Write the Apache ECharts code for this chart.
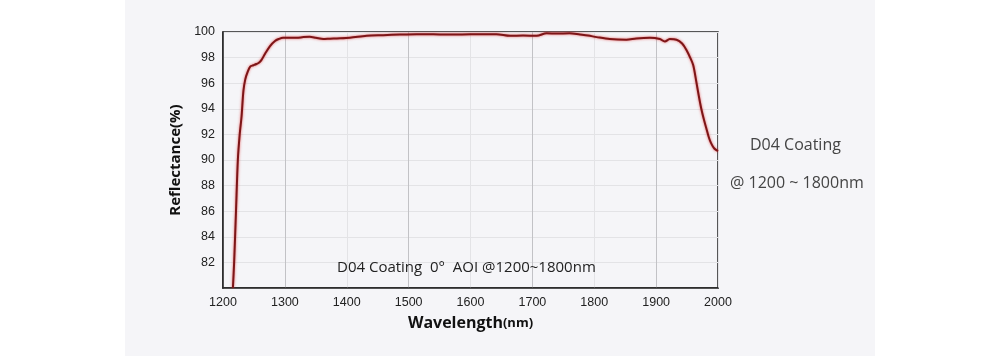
<!DOCTYPE html>
<html>
<head>
<meta charset="utf-8">
<script src="https://cdn.jsdelivr.net/npm/echarts@6/dist/echarts.min.js"></script>
<style>
html,body{margin:0;padding:0;background:#ffffff;}
#chart{width:1000px;height:356px;}
</style>
</head>
<body>
<div id="chart"></div>
<script>
// Wavelength (nm) and reflectance (%)
var wavelengths = [1216, 1218, 1221, 1224, 1227, 1230, 1233, 1236, 1240, 1244, 1249, 1254, 1258, 1262, 1268, 1276, 1284, 1290, 1297, 1308, 1319, 1330, 1340, 1350, 1362, 1373, 1384, 1405, 1432, 1459, 1486, 1513, 1540, 1567, 1600, 1642, 1664, 1685, 1707, 1723, 1740, 1760, 1777, 1790, 1804, 1825, 1852, 1868, 1890, 1906, 1914, 1922, 1933, 1942, 1949, 1955, 1960, 1965, 1969, 1973, 1977, 1981, 1985, 1989, 1994, 2000];
var reflectance = [80.0, 82.0, 86.0, 90.0, 92.0, 93.4, 95.4, 96.3, 96.9, 97.3, 97.4, 97.5, 97.6, 97.8, 98.3, 98.9, 99.3, 99.45, 99.55, 99.55, 99.55, 99.6, 99.62, 99.55, 99.45, 99.48, 99.5, 99.55, 99.7, 99.75, 99.8, 99.83, 99.82, 99.8, 99.82, 99.83, 99.7, 99.72, 99.7, 99.9, 99.88, 99.9, 99.8, 99.72, 99.6, 99.45, 99.4, 99.5, 99.55, 99.45, 99.25, 99.45, 99.4, 99.1, 98.6, 98.0, 97.4, 96.1, 95.0, 94.0, 93.2, 92.5, 91.8, 91.3, 90.9, 90.7];
var xTicks = [1200, 1300, 1400, 1500, 1600, 1700, 1800, 1900, 2000];
var yTicks = [82, 84, 86, 88, 90, 92, 94, 96, 98, 100];
var insideNote = 'D04 Coating  0°  AOI @1200~1800nm';
var sideTitle = 'D04 Coating';
var sideRange = '@ 1200 ~ 1800nm';

var points = wavelengths.map(function (w, i) { return [w, reflectance[i]]; });

var chart = echarts.init(document.getElementById('chart'), null, {renderer: 'canvas'});
chart.setOption({
  backgroundColor: '#ffffff',
  animation: false,
  graphic: [
    {type: 'rect', z: -10, shape: {x: 125, y: 0, width: 750, height: 356}, style: {fill: '#f5f5f8'}},
    {type: 'text', left: 750, top: 137, z: 10, style: {text: sideTitle, font: '16px "Open Sans", "Noto Sans", sans-serif', fill: '#444'}},
    {type: 'text', left: 730, top: 175, z: 10, style: {text: sideRange, font: '16px "Open Sans", "Noto Sans", sans-serif', fill: '#444'}},
    {type: 'text', left: 337, top: 260, z: 10, style: {text: insideNote, font: '15px "Open Sans", "Noto Sans", sans-serif', fill: '#222'}}
  ],
  grid: {
    left: 223, right: 282, top: 32, bottom: 68,
    show: true, borderColor: '#222', borderWidth: 1.5, backgroundColor: 'transparent'
  },
  xAxis: {
    type: 'value', min: 1200, max: 2000, interval: 100,
    name: 'Wavelength{s|(nm)}',
    nameLocation: 'middle', nameGap: 27,
    nameTextStyle: {
      fontFamily: '"Open Sans", sans-serif', fontWeight: 'bold', fontSize: 16, color: '#111',
      rich: {s: {fontFamily: '"Open Sans", sans-serif', fontWeight: 'bold', fontSize: 13, color: '#111'}}
    },
    axisLine: {show: true, onZero: false, lineStyle: {color: '#222', width: 1.5}},
    axisTick: {show: false},
    axisLabel: {
      margin: 8, fontFamily: '"Liberation Sans", Arial, sans-serif', fontSize: 12.5, color: '#222',
      formatter: function (v) { return xTicks.indexOf(v) >= 0 ? String(v) : ''; }
    },
    splitLine: {show: true, lineStyle: {color: ['#e3e3e6', '#c2c2c6'], width: 1}}
  },
  yAxis: {
    type: 'value', min: 80, max: 100, interval: 2,
    name: 'Reflectance(%)',
    nameLocation: 'middle', nameGap: 40, nameRotate: 90,
    nameTextStyle: {fontFamily: '"Open Sans", sans-serif', fontWeight: 'bold', fontSize: 15, color: '#111'},
    axisLine: {show: true, onZero: false, lineStyle: {color: '#222', width: 1.5}},
    axisTick: {show: false},
    axisLabel: {
      margin: 8, fontFamily: '"Liberation Sans", Arial, sans-serif', fontSize: 12.5, color: '#222',
      formatter: function (v) { return yTicks.indexOf(v) >= 0 ? String(v) : ''; }
    },
    splitLine: {show: true, lineStyle: {color: '#e3e3e6', width: 1}}
  },
  series: [{
    type: 'line',
    data: points,
    smooth: 0.3,
    showSymbol: false,
    clip: true,
    lineStyle: {color: '#7d1517', width: 2, shadowColor: 'rgba(225,45,45,0.8)', shadowBlur: 2.5}
  }]
});
</script>
</body>
</html>
